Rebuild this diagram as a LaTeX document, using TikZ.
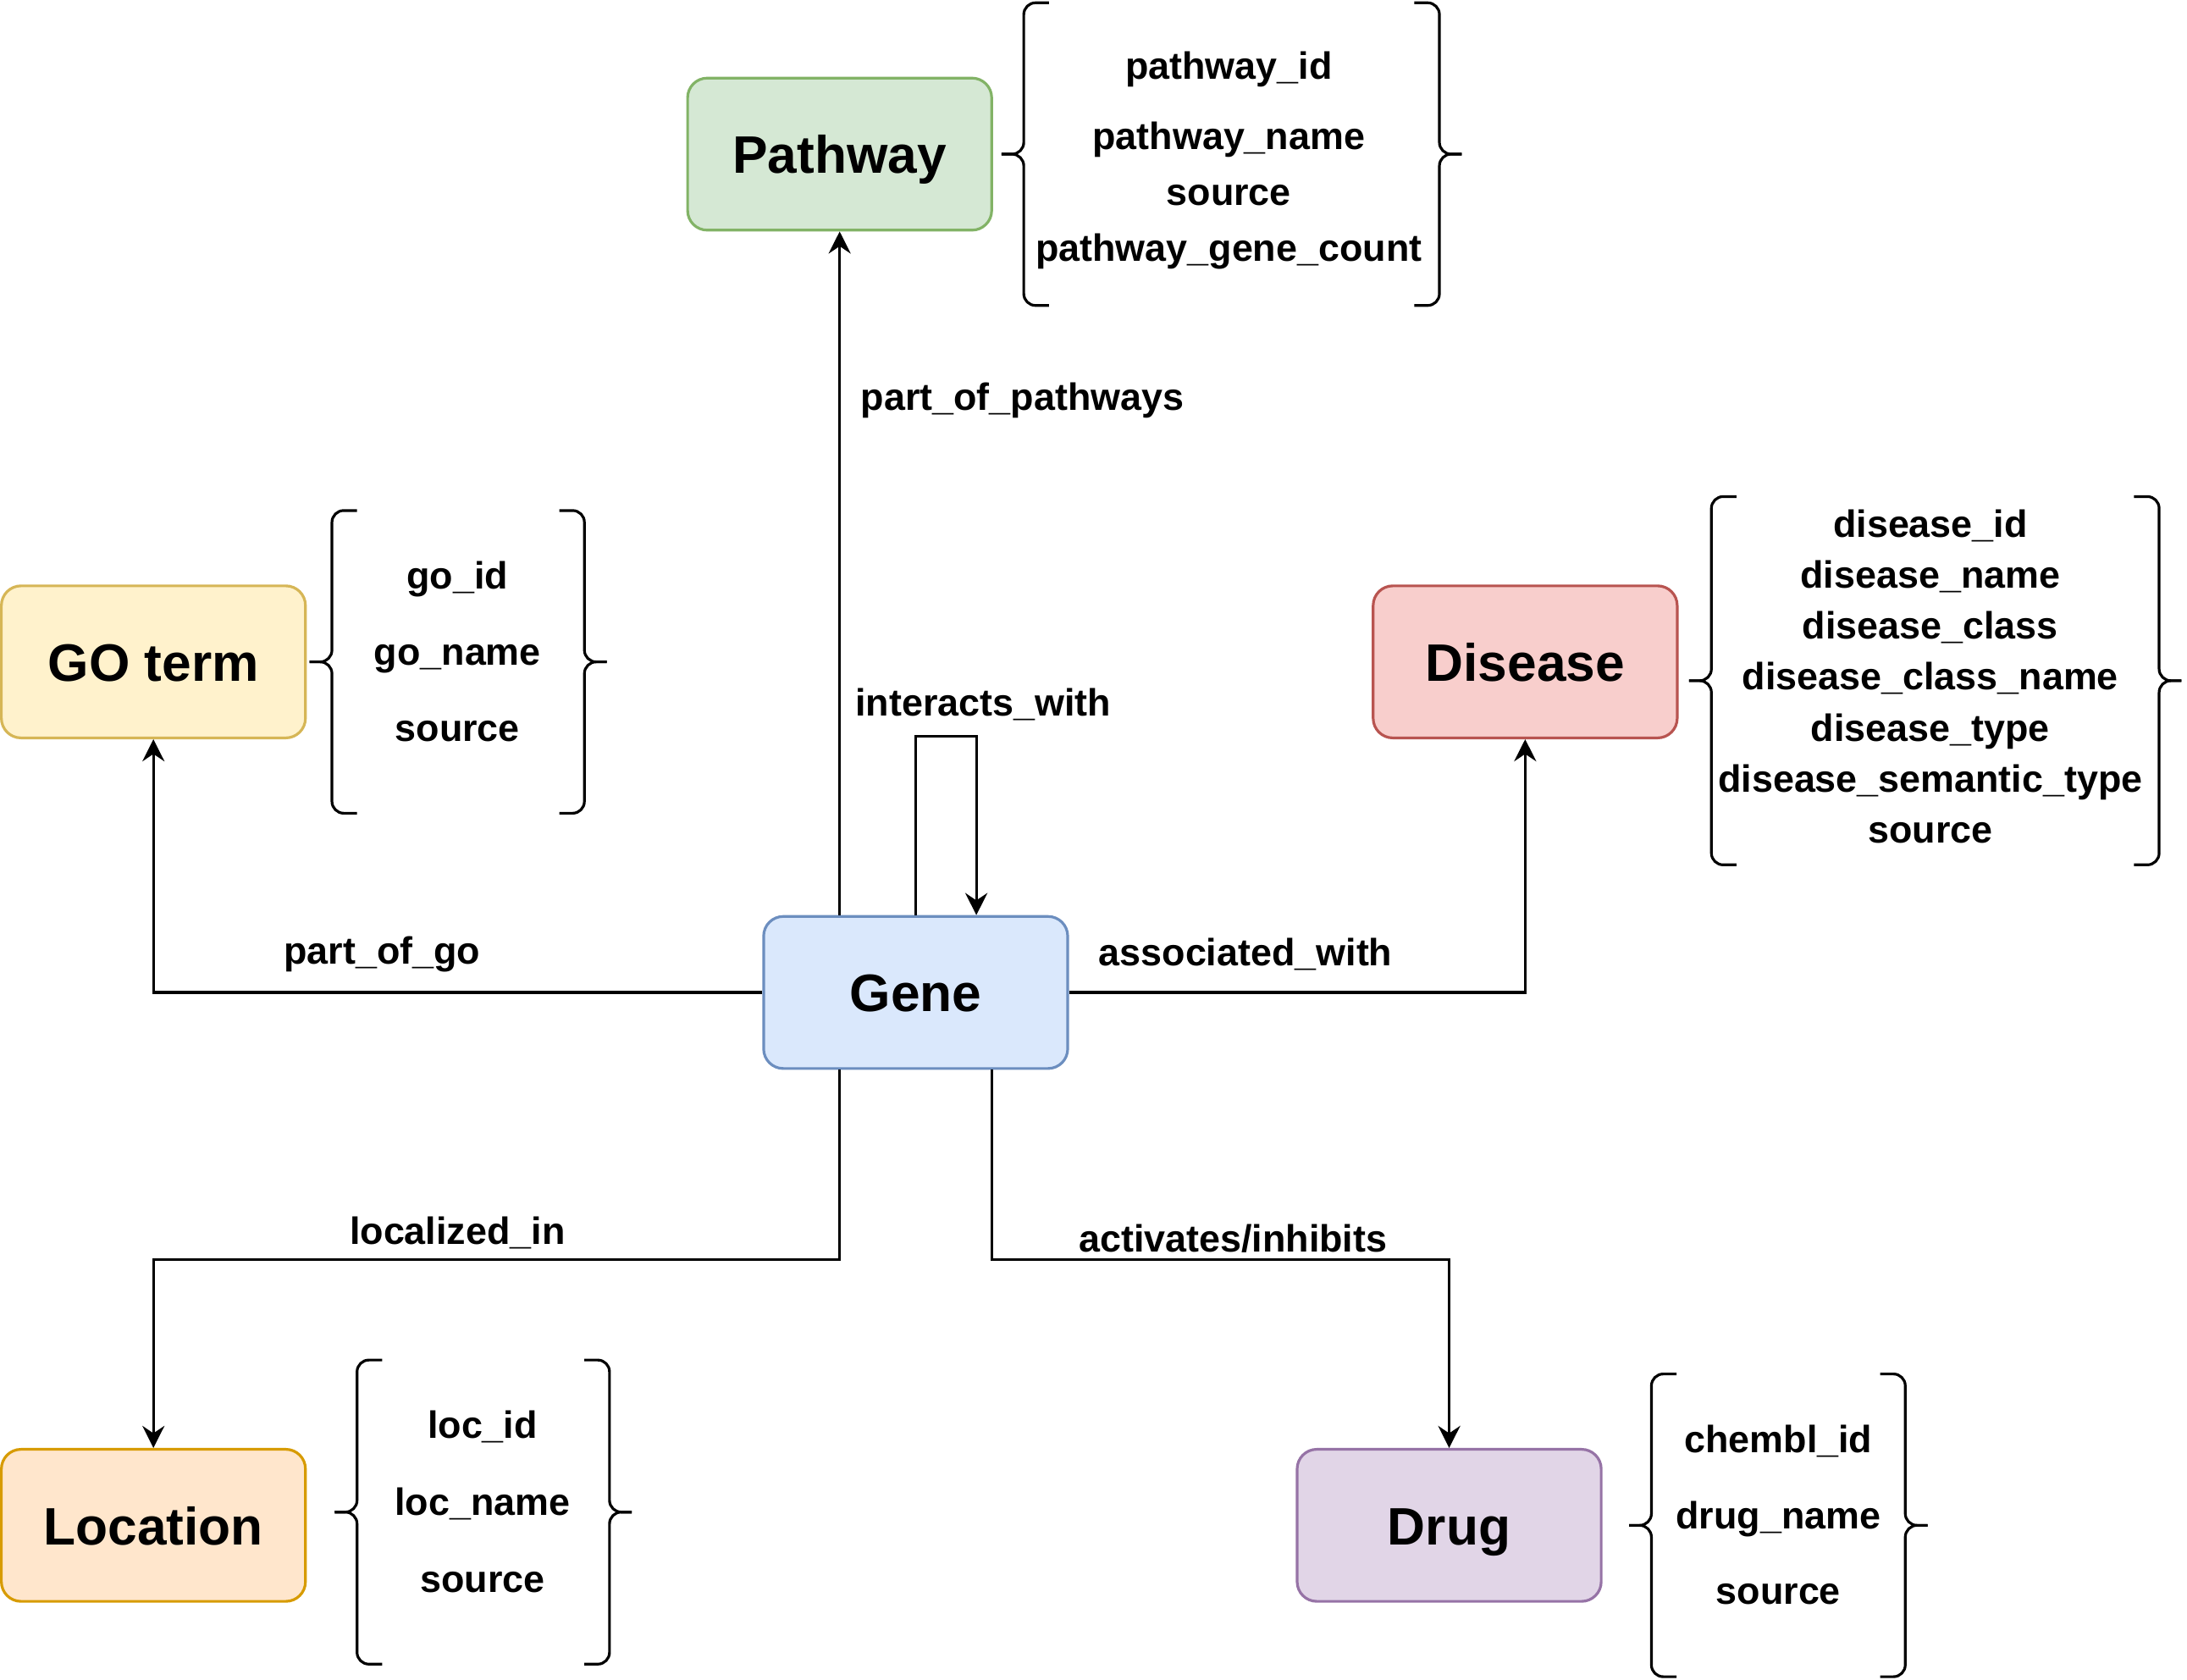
\documentclass[tikz,border=0pt]{standalone}
\usepackage{fontspec}
\setmainfont{Liberation Sans}
\usepackage{xcolor}
\usepackage{tikz}
\usetikzlibrary{arrows.meta, positioning, calc}
\definecolor{geneFill}{HTML}{DAE8FC}\definecolor{geneLine}{HTML}{6C8EBF}
\definecolor{pathFill}{HTML}{D5E8D4}\definecolor{pathLine}{HTML}{82B366}
\definecolor{goFill}{HTML}{FFF2CC}\definecolor{goLine}{HTML}{D6B656}
\definecolor{disFill}{HTML}{F8CECC}\definecolor{disLine}{HTML}{B85450}
\definecolor{locFill}{HTML}{FFE6CC}\definecolor{locLine}{HTML}{D79B00}
\definecolor{drugFill}{HTML}{E1D5E7}\definecolor{drugLine}{HTML}{9673A6}
\tikzset{
  entity/.style={draw, rounded corners=8pt, minimum width=4.36cm, minimum height=2.18cm, line width=1.1pt, text height=15.7pt, text depth=0pt, font=\bfseries\fontsize{21.5}{26}\selectfont},
  attrs/.style={align=center, inner sep=0pt, font=\bfseries\fontsize{15.5}{#1}\selectfont},
  attrs/.default=22pt,
  rel/.style={font=\bfseries\fontsize{15.5}{19}\selectfont},
  link/.style={-{Stealth[length=9pt, width=9pt, inset=3pt]}, line width=1.1pt},
  bracket/.style={line width=1.1pt, rounded corners=4.8pt}
}
\newcommand{\attrbrace}[4]{%
  \begin{scope}[shift={(#1,#2)}]
    \draw[bracket] ({-0.5*#3+0.68},{0.5*#4}) -- ({-0.5*#3+0.32},{0.5*#4}) -- ({-0.5*#3+0.32},0) -- ({-0.5*#3},0);
    \draw[bracket] ({-0.5*#3+0.68},{-0.5*#4}) -- ({-0.5*#3+0.32},{-0.5*#4}) -- ({-0.5*#3+0.32},0) -- ({-0.5*#3},0);
    \draw[bracket] ({0.5*#3-0.68},{0.5*#4}) -- ({0.5*#3-0.32},{0.5*#4}) -- ({0.5*#3-0.32},0) -- ({0.5*#3},0);
    \draw[bracket] ({0.5*#3-0.68},{-0.5*#4}) -- ({0.5*#3-0.32},{-0.5*#4}) -- ({0.5*#3-0.32},0) -- ({0.5*#3},0);
  \end{scope}
}

\begin{document}
\begin{tikzpicture}
    \useasboundingbox (-13.13,14.23) rectangle (18.23,-9.85);

    % Entities
    \node[entity, fill=geneFill, draw=geneLine] (gene)     at (0,0)         {Gene};
    \node[entity, fill=pathFill, draw=pathLine] (pathway)  at (-1.09,12.02) {Pathway};
    \node[entity, fill=goFill,   draw=goLine]   (goterm)   at (-10.93,4.74) {GO term};
    \node[entity, fill=disFill,  draw=disLine]  (disease)  at (8.74,4.74)   {Disease};
    \node[entity, fill=locFill,  draw=locLine]  (location) at (-10.93,-7.64) {Location};
    \node[entity, fill=drugFill, draw=drugLine] (drug)     at (7.65,-7.64)  {Drug};

    % Attributes
    \attrbrace{4.53}{12.02}{6.6}{4.34}
    \node[attrs=22.8pt] (pathattr) at (4.49,11.93) {pathway\_id\\[5.7pt]pathway\_name\\source\\pathway\_gene\_count};
    \attrbrace{-6.56}{4.74}{4.26}{4.34}
    \node[attrs=31pt] (goattr) at (-6.57,4.89) {go\_id\\go\_name\\source};
    \attrbrace{14.62}{4.47}{7.06}{5.28}
    \node[attrs=20.8pt] (disattr) at (14.55,4.53) {disease\_id\\disease\_name\\disease\_class\\disease\_class\_name\\disease\_type\\disease\_semantic\_type\\source};
    \attrbrace{-6.2}{-7.45}{4.26}{4.36}
    \node[attrs=31.3pt] (locattr) at (-6.21,-7.30) {loc\_id\\loc\_name\\source};
    \attrbrace{12.37}{-7.64}{4.28}{4.34}
    \node[attrs=31pt] (drugattr) at (12.37,-7.49) {chembl\_id\\drug\_name\\source};

    % Relations
    \draw[link] (gene.north -| pathway.south) -- (pathway.south);
    \draw[link] (gene.west) -| (goterm.south);
    \draw[link] (gene.east) -| (disease.south);
    \draw[link] ($(gene.south)+(-1.09,0)$) -- ++(0,-2.72) -| (location.north);
    \draw[link] ($(gene.south)+(1.09,0)$) -- ++(0,-2.72) -| (drug.north);
    \draw[link] (gene.north) -- ++(0,2.56) -| ($(gene.north)+(0.87,0)$);

    \node[rel, anchor=west] (lblpath) at (-0.91,8.49) {part\_of\_pathways};
    \node[rel] (lblgo)   at (-7.65,0.55)  {part\_of\_go};
    \node[rel] (lbldis)  at (4.73,0.55)   {associated\_with};
    \node[rel] (lblloc)  at (-6.57,-3.45) {localized\_in};
    \node[rel] (lbldrug) at (4.55,-3.53)  {activates/inhibits};
    \node[rel] (lblint)  at (0.97,4.13)   {interacts\_with};
\end{tikzpicture}
\end{document}
